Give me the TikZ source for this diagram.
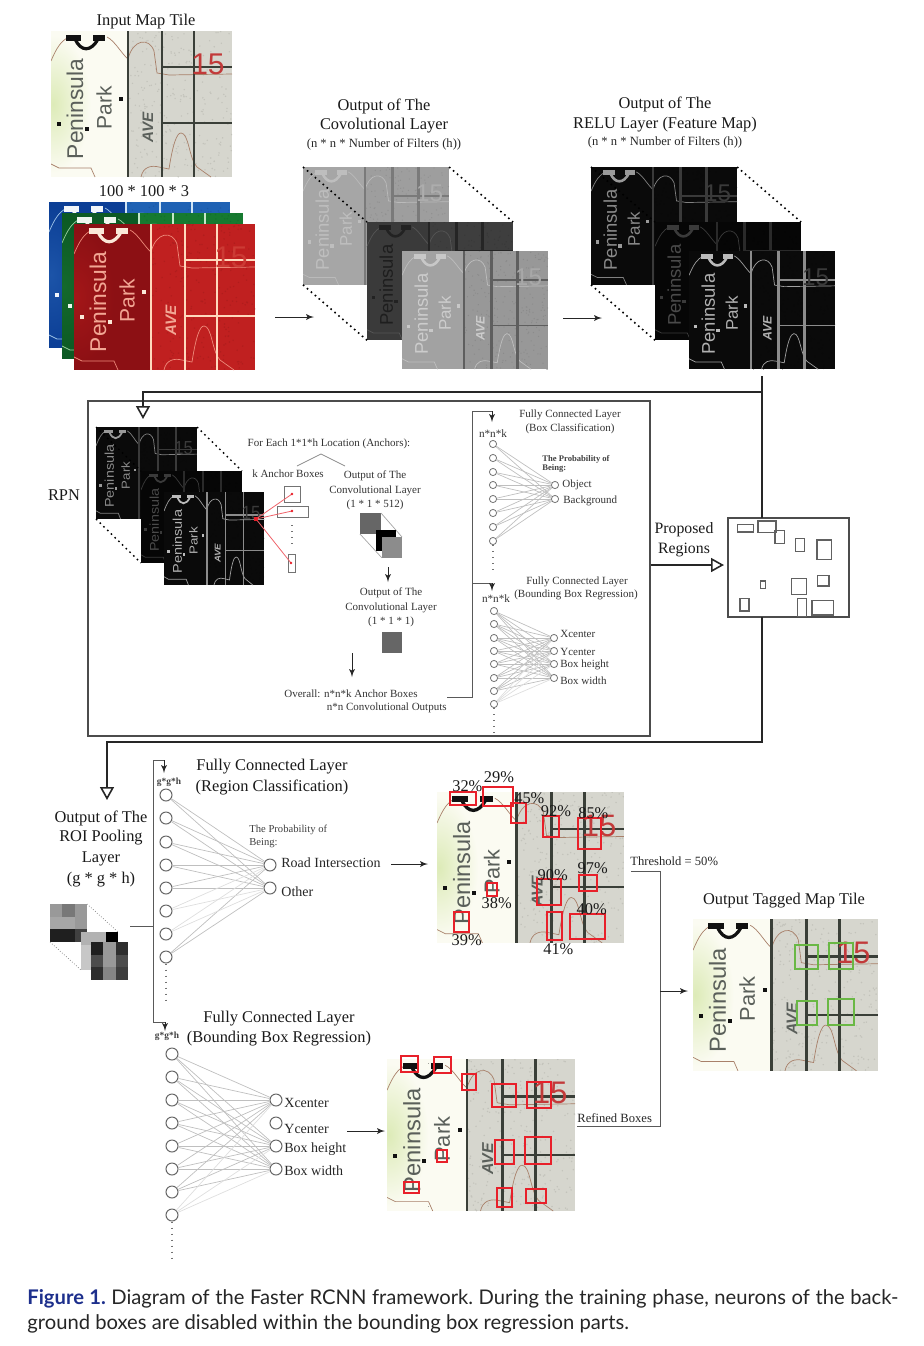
\documentclass[tikz,border=0pt]{standalone}
\usepackage{fontspec}
\usepackage{amsmath}
\usepackage{tikz}
\usetikzlibrary{arrows,arrows.meta}
\setmainfont{Liberation Serif}
\newfontfamily\tilefont{Liberation Sans}
\newfontfamily\capfont{Lato}
\newcommand{\setfs}[1]{\fontsize{#1}{#1}\selectfont}

\definecolor{capblue}{HTML}{1D2F8C}
\definecolor{boxred}{HTML}{E8202A}
\definecolor{boxgreen}{HTML}{6AB845}

% palette of one tile: bg, park, left band, roads, labels, contour, number, arch
\newcommand{\tilecolors}[8]{%
\definecolor{tbg}{HTML}{#1}\definecolor{tpark}{HTML}{#2}\definecolor{tgreen}{HTML}{#3}%
\definecolor{troad}{HTML}{#4}\definecolor{ttext}{HTML}{#5}\definecolor{tcont}{HTML}{#6}%
\definecolor{tnum}{HTML}{#7}\definecolor{tarch}{HTML}{#8}}
\newcommand{\tilenum}{15}

% name, x, y, xscale, yscale
\newcommand{\maptile}[5]{%
\begin{scope}[shift={(#2,#3)},xscale=#4,yscale=#5,transform shape]
\coordinate (#1-nw) at (0,0);
\coordinate (#1-ne) at (181,0);
\coordinate (#1-sw) at (0,146);
\begin{scope}
\clip (0,0) rectangle (181,146);
\fill[tbg] (0,0) rectangle (181,146);
\foreach \s in {1,...,260}
  \fill[tbg!91!black] (76+rnd*105,rnd*146) circle (.4pt);
\fill[tpark] (0,0) rectangle (76,146);
\fill[inner color=tgreen,outer color=tpark] (-36,4) rectangle (40,142);
% contours
\draw[tcont,line width=.35pt] (0,30) .. controls (6,16) and (10,10) .. (18,6);
\draw[tcont,line width=.35pt] (56,6) .. controls (64,10) and (70,22) .. (77,28) .. controls (82,8) and (98,6) .. (103,20) -- (106,42) -- (118,44) -- (181,43);
\draw[tcont,line width=.35pt] (0,133) -- (8,137) -- (40,137) -- (44,146);
\draw[tcont,line width=.35pt] (90,146) .. controls (92,136) and (100,134) .. (108,136) -- (118,138) .. controls (122,112) and (126,102) .. (130,102) .. controls (138,102) and (138,128) .. (146,136) -- (160,146);
% roads
\draw[troad,line width=#4*1.4pt] (77,0) -- (77,146);
\draw[troad,line width=#4*1.4pt] (111,0) -- (111,146);
\draw[troad,line width=#4*1.4pt] (143,0) -- (143,146);
\draw[troad,line width=#4*1.1pt] (111,36) -- (181,36);
\draw[troad,line width=#4*1.1pt] (111,92) -- (181,92);
% arch
\fill[tarch] (15,4) rectangle (30,10);
\fill[tarch] (42,4) rectangle (54,10);
\draw[tarch,line width=#4*1.6pt] (24,8) .. controls (30,21) and (40,21) .. (47,8);
% squares
\fill[tarch] (6,91) rectangle (10,95);
\fill[tarch] (34,96) rectangle (38,100);
\fill[tarch] (68,66) rectangle (72,70);
% labels
\node[text=ttext,rotate=90,inner sep=0pt,font=\tilefont\setfs{11.4}] (#1-pen) at (24,78) {Peninsula};
\node[text=ttext,rotate=90,inner sep=0pt,font=\tilefont\setfs{10.5}] (#1-park) at (53,77) {Park};
\node[text=ttext,rotate=90,inner sep=0pt,font=\tilefont\bfseries\itshape\setfs{7.6}] (#1-ave) at (97,96) {AVE};
\node[text=tnum,inner sep=0pt,font=\tilefont\setfs{15}] (#1-num) at (157,33) {\tilenum};
\end{scope}
\end{scope}}

\begin{document}
\begin{tikzpicture}[x=0.5pt,y=-0.5pt]
\tikzset{neuron/.style = {shape=circle,draw=black!55,fill=white,line width=.4pt,minimum size=3.6pt,inner sep=0pt}}
\tikzset{bigneuron/.style = {shape=circle,draw=black!60,fill=white,line width=.5pt,minimum size=6pt,inner sep=0pt}}
\tikzset{link/.style = {draw=black!25,line width=.35pt}}
\tikzset{faint/.style = {draw=black!13,line width=.35pt}}
\tikzset{flow/.style = {->,> = latex',draw=black!85,line width=.4pt}}
\tikzset{plain/.style = {draw=black!65,line width=.45pt}}
\tikzset{heavy/.style = {draw=black!85,line width=.9pt}}
\tikzset{heavytip/.style = {heavy,-{Triangle[open,length=6.5pt,width=7pt,line width=.8pt]}}}
\tikzset{dotline/.style = {line width=.8pt,dash pattern=on .8pt off 1.8pt}}
\tikzset{dotgray/.style = {draw=black!55,line width=.6pt,dash pattern=on .6pt off 2.4pt}}
\tikzset{pct/.style = {inner sep=0pt,font=\setfs{8.2},text=black!90}}
\tikzset{lab/.style = {pct,yshift=-1pt}}
\tikzset{mid/.style = {inner sep=0pt,yshift=-.5pt,font=\setfs{7},text=black!85}}
\tikzset{note/.style = {inner sep=0pt,yshift=-.6pt,font=\setfs{6.3},text=black!85}}
\tikzset{small/.style = {inner sep=0pt,yshift=-.6pt,font=\setfs{5.5},text=black!80}}
\tikzset{tiny/.style = {inner sep=0pt,font=\bfseries\setfs{4.3},text=black!75,align=left}}
\tikzset{anchorbox/.style = {draw=black!55,line width=.4pt}}
\tikzset{regionbox/.style = {draw=black!62,line width=.7pt}}
\tikzset{redbox/.style = {draw=boxred,line width=.9pt}}
\tikzset{greenbox/.style = {draw=boxgreen,line width=.9pt}}
\useasboundingbox (0,0) rectangle (924,1346);
\pgfmathsetseed{7}

% input tile and channels
\tilecolors{D6D6CE}{FBFBF2}{DDEBB8}{3A3F38}{5A5F5A}{A8806A}{C23A3A}{111111}
\maptile{input}{51}{31}{1}{1}
\node[lab] (inputtitle) at (146,20) {Input Map Tile};
\node[pct] (inputsize) at (144,191) {100 * 100 * 3};
\renewcommand{\tilenum}{}
\tilecolors{1F62B4}{0C3F96}{1C54A8}{CFE4F5}{CFE4F5}{9FC4E8}{1F62B4}{F2F6FA}
\maptile{blue}{49}{202}{1}{1}
\tilecolors{167A30}{0C5A24}{14692C}{C5E8C8}{C5E8C8}{9AD0A0}{167A30}{EEF6EE}
\maptile{green}{62}{213}{1}{1}
\renewcommand{\tilenum}{15}
\tilecolors{C02020}{8C1014}{A31618}{FFD8BC}{F2A694}{EE8A7A}{CC3A34}{FBE8D8}
\maptile{red}{74}{224}{1}{1}

% convolutional layer
\node[lab] (convtitlea) at (384,104) {Output of The};
\node[lab] (convtitleb) at (384,124) {Covolutional Layer};
\node[note] (convsize) at (384,143) {(n * n * Number of Filters (h))};
\tilecolors{9E9E9E}{A6A6A6}{A6A6A6}{7A7A7A}{BEBEBE}{BABABA}{ADADAD}{BEBEBE}
\maptile{conva}{303}{167}{.807}{.807}
\renewcommand{\tilenum}{}
\tilecolors{3E3E3E}{3A3A3A}{3A3A3A}{252525}{1E1E1E}{555555}{4A4A4A}{222222}
\maptile{convb}{367}{222}{.807}{.81}
\renewcommand{\tilenum}{15}
\tilecolors{989898}{A2A2A2}{A2A2A2}{5E5E5E}{CCCCCC}{BEBEBE}{A8A8A8}{C8C8C8}
\maptile{convc}{402}{251}{.807}{.81}
\draw[dotline] (conva-nw) -- (convb-nw);
\draw[dotline] (conva-ne) -- (convb-ne);
\draw[dotline] (conva-sw) -- (convb-sw);

% relu layer
\node[lab] (relutitlea) at (665,102) {Output of The};
\node[lab] (relutitleb) at (665,123) {RELU Layer (Feature Map)};
\node[note] (relusize) at (665,141) {(n * n * Number of Filters (h))};
\tilecolors{0A0A0A}{0A0A0A}{0A0A0A}{3A3A3A}{8A8A8A}{808080}{3A3A3A}{999999}
\maptile{relua}{591}{167}{.807}{.807}
\renewcommand{\tilenum}{}
\tilecolors{060606}{060606}{060606}{2A2A2A}{4A4A4A}{3A3A3A}{2A2A2A}{3A3A3A}
\maptile{relub}{655}{222}{.807}{.81}
\renewcommand{\tilenum}{15}
\tilecolors{0A0A0A}{0A0A0A}{0A0A0A}{8C8C8C}{B0B0B0}{A0A0A0}{3A3A3A}{BBBBBB}
\maptile{reluc}{689}{251}{.807}{.81}
\draw[dotline] (relua-nw) -- (relub-nw);
\draw[dotline] (relua-ne) -- (relub-ne);
\draw[dotline] (relua-sw) -- (relub-sw);

\coordinate (fa) at (275,317);
\coordinate (fb) at (314,317);
\coordinate (fc) at (563,318);
\coordinate (fd) at (602,318);
\draw[flow] (fa) to (fb);
\draw[flow] (fc) to (fd);

% rpn frame
\node[draw=black!70,line width=.8pt,minimum width=281pt,minimum height=167.5pt,inner sep=0pt] (rpn) at (369,568.5) {};
\node[lab] (rpnlabel) at (64,493) {RPN};
\tilecolors{0A0A0A}{0A0A0A}{0A0A0A}{3A3A3A}{8A8A8A}{808080}{3A3A3A}{999999}
\maptile{rpna}{96}{427}{.558}{.63}
\renewcommand{\tilenum}{}
\tilecolors{060606}{060606}{060606}{2A2A2A}{4A4A4A}{3A3A3A}{2A2A2A}{3A3A3A}
\maptile{rpnb}{141}{471}{.558}{.63}
\renewcommand{\tilenum}{15}
\tilecolors{0A0A0A}{0A0A0A}{0A0A0A}{8C8C8C}{B0B0B0}{A0A0A0}{3A3A3A}{BBBBBB}
\maptile{rpnc}{164}{492}{.555}{.637}
\draw[dotline,line width=.7pt] (rpna-nw) -- (rpnb-nw);
\draw[dotline,line width=.7pt] (rpna-ne) -- (rpnb-ne);
\draw[dotline,line width=.7pt] (rpna-sw) -- (rpnb-sw);

% anchors
\node[small] (foreach) at (329,443) {For Each 1*1*h Location (Anchors):};
\coordinate (forka) at (297,466);
\coordinate (forkb) at (321,454);
\coordinate (forkc) at (345,466);
\draw[draw=black!45,line width=.4pt] (forka) -- (forkb) -- (forkc);
\node[small] (kboxes) at (288,473) {k Anchor Boxes};
\node[small] (cubea) at (375,475) {Output of The};
\node[small] (cubeb) at (375,490) {Convolutional Layer};
\node[small] (cubec) at (375,504) {(1 * 1 * 512)};
\node[anchorbox,minimum width=8pt,minimum height=8pt,inner sep=0pt] (boxa) at (292,494) {};
\node[anchorbox,minimum width=15.5pt,minimum height=5.5pt,inner sep=0pt] (boxb) at (292.5,511.5) {};
\node[anchorbox,minimum width=3.5pt,minimum height=9pt,inner sep=0pt] (boxc) at (291.5,563) {};
\coordinate (dota) at (292,525);
\coordinate (dotb) at (292,548);
\draw[dotgray] (dota) -- (dotb);
\coordinate (src) at (256,519);
\coordinate (ra) at (292,494);
\coordinate (rb) at (292,511);
\coordinate (rc) at (291,563);
\draw[boxred!70,line width=.4pt] (src) -- (ra);
\draw[boxred!70,line width=.4pt] (src) -- (rb);
\draw[boxred!70,line width=.4pt] (src) -- (rc);
\fill[boxred] (254,517) rectangle (258,521);
\fill[boxred] (ra) circle (.7pt);
\fill[boxred] (rb) circle (.7pt);
\fill[boxred] (rc) circle (.7pt);

% small cube
\fill[black!60] (360,513) rectangle (381,534);
\draw[black!35,line width=.35pt] (381,513) -- (402,537);
\draw[black!35,line width=.35pt] (360,534) -- (382,558);
\fill[black] (376,530) rectangle (396,537);
\fill[black] (376,530) rectangle (382,551);
\fill[black!45] (382,537) rectangle (402,558);
\coordinate (ca) at (388,567);
\coordinate (cb) at (388,582);
\draw[flow] (ca) to (cb);
\node[small] (flata) at (391,592) {Output of The};
\node[small] (flatb) at (391,607) {Convolutional Layer};
\node[small] (flatc) at (391,621) {(1 * 1 * 1)};
\fill[black!60] (382,632) rectangle (402,653);
\coordinate (cc) at (352,653);
\coordinate (cd) at (352,677);
\draw[flow] (cc) to (cd);
\node[small,anchor=west] (overalla) at (284,693) {Overall: n*n*k Anchor Boxes};
\node[small,anchor=east] (overallb) at (447,707) {n*n Convolutional Outputs};

% rpn heads
\coordinate (ta) at (447,697);
\coordinate (tb) at (472,697);
\coordinate (tc) at (472,411);
\coordinate (td) at (492,411);
\coordinate (te) at (492,422);
\coordinate (tf) at (472,583);
\coordinate (tg) at (492,583);
\coordinate (th) at (492,591);
\draw[plain] (ta) -- (tb) -- (tc) -- (td);
\draw[flow] (td) to (te);
\draw[plain] (tf) -- (tg);
\draw[flow] (tg) to (th);
\node[small,font=\setfs{5.6}] (nnka) at (493,432) {n*n*k};
\node[small,font=\setfs{5.6}] (nnkb) at (496,597) {n*n*k};
\node[small] (clsa) at (570,414) {Fully Connected Layer};
\node[small] (clsb) at (570,428) {(Box Classification)};
\node[small] (rega) at (577,581) {Fully Connected Layer};
\node[small] (regb) at (576,594) {(Bounding Box Regression)};
\node[tiny,anchor=north west] (proba) at (542,455) {The Probability of\\[.2pt]Being:};

\foreach \i/\yy in {1/444,2/458,3/472,4/485,5/499,6/513,7/527,8/541}
  \node[neuron] (p\i) at (493,\yy) {};
\node[neuron] (po1) at (555,485) {};
\node[neuron] (po2) at (555,499) {};
\foreach \i in {1,...,8} \foreach \o in {1,2}
  \draw[link] (p\i) -- (po\o);
\coordinate (pend) at (493,571);
\draw[dotgray] (p8) -- (pend);
\node[small,anchor=west] (obj) at (562,484) {Object};
\node[small,anchor=west] (bg) at (563,500) {Background};

\foreach \i/\yy in {1/611,2/624,3/638,4/651,5/664,6/678,7/691,8/704}
  \node[neuron] (q\i) at (494,\yy) {};
\foreach \o/\yy in {1/638,2/651,3/664,4/678}
  \node[neuron] (qo\o) at (554,\yy) {};
\foreach \i in {1,...,7} \foreach \o in {1,2,3,4}
  \draw[link] (q\i) -- (qo\o);
\foreach \o in {1,2,3,4}
  \draw[faint] (q8) -- (qo\o);
\coordinate (qend) at (494,734);
\draw[dotgray] (q8) -- (qend);
\node[small,anchor=west] (qxa) at (560,633) {Xcenter};
\node[small,anchor=west] (qya) at (560,651) {Ycenter};
\node[small,anchor=west] (qha) at (560,664) {Box height};
\node[small,anchor=west] (qwa) at (560,680) {Box width};

% proposed regions
\node[lab,font=\setfs{7.9}] (propa) at (684,528) {Proposed};
\node[lab,font=\setfs{7.9}] (propb) at (684,548) {Regions};
\node[draw=black!70,line width=.6pt,minimum width=60.5pt,minimum height=49.5pt,inner sep=0pt] (prop) at (788.5,567.5) {};
\foreach \xa/\ya/\xb/\yb in {737.3/524.3/753.3/532,758/521/776/532.7,775/530.7/784.3/543.3,795.7/538.7/804.7/551.3,817/540/831.3/559.7,817.7/575.7/829/586,791.3/578.3/806.3/594.3,760.3/581/765.7/588.7,740/598.7/749/611,797.3/598.7/806.3/616.3,812/600.3/833.3/615}
  \draw[regionbox] (\xa,\ya) rectangle (\xb,\yb);
\coordinate (ha) at (651,565);
\coordinate (hb) at (724,565);
\draw[heavytip] (ha) to (hb);
\coordinate (ja) at (762,376);
\coordinate (jb) at (762,518);
\coordinate (jc) at (762,392);
\coordinate (jd) at (143,392);
\coordinate (je) at (143,419);
\draw[heavy] (ja) -- (jb);
\draw[heavytip] (jc) -- (jd) -- (je);
\coordinate (ka) at (762,617);
\coordinate (kb) at (762,742);
\coordinate (kc) at (107,742);
\coordinate (kd) at (107,800);
\draw[heavytip] (ka) -- (kb) -- (kc) -- (kd);

% roi pooling
\node[lab] (roia) at (101,816) {Output of The};
\node[lab] (roib) at (101,836) {ROI Pooling};
\node[lab] (roic) at (101,857) {Layer};
\node[lab] (roid) at (101,878) {(g * g * h)};
\foreach \i/\j/\g in {0/0/40,1/0/53,2/0/40,0/1/35,1/1/35,2/1/40,0/2/88,1/2/88,2/2/75}
  \fill[black!\g] (50+\i*12.3,904+\j*12.6) rectangle ++(12.3,12.6);
\foreach \i/\j/\g in {0/0/30,1/0/30,2/0/100,0/1/22,1/1/30,2/1/30,0/2/22,1/2/30,2/2/30}
  \fill[black!\g] (81+\i*12.3,932+\j*12.6) rectangle ++(12.3,12.6);
\foreach \i/\j/\g in {0/0/88,1/0/40,2/0/82,0/1/70,1/1/40,2/1/70,0/2/82,1/2/48,2/2/76}
  \fill[black!\g] (91+\i*12.3,942+\j*12.6) rectangle ++(12.3,12.6);
\coordinate (cubenw) at (87,904);
\coordinate (cubene) at (118,932);
\coordinate (cubesw) at (50,942);
\coordinate (cubese) at (81,970);
\draw[draw=black!55,line width=.35pt,densely dotted] (cubenw) -- (cubene);
\draw[draw=black!55,line width=.35pt,densely dotted] (cubesw) -- (cubese);

% bus
\coordinate (ba) at (130,926);
\coordinate (bb) at (153,926);
\coordinate (bc) at (153,760);
\coordinate (bd) at (164,760);
\coordinate (be) at (164,773);
\coordinate (bf) at (153,1022);
\coordinate (bg2) at (165,1022);
\coordinate (bh) at (165,1031);
\draw[plain] (ba) -- (bb);
\draw[plain] (bd) -- (bc) -- (bf) -- (bg2);
\draw[flow] (bd) to (be);
\draw[flow] (bg2) to (bh);
\node[tiny,font=\bfseries\setfs{4.7}] (ggha) at (169,782) {g*g*h};
\node[tiny,font=\bfseries\setfs{4.7}] (gghb) at (167,1036) {g*g*h};

% region classification
\node[lab] (rcla) at (272,765) {Fully Connected Layer};
\node[lab] (rclb) at (272,785) {(Region Classification)};
\node[inner sep=0pt,font=\setfs{5.3},text=black!75,anchor=north west,align=left] (rprob) at (249,825) {The Probability of\\[.8pt]Being:};
\foreach \i/\yy in {1/795,2/818,3/842,4/865,5/888,6/911,7/934,8/957}
  \node[bigneuron] (r\i) at (166,\yy) {};
\node[bigneuron] (ro1) at (270,865) {};
\node[bigneuron] (ro2) at (270,888) {};
\foreach \i in {1,2,3,4,5,8} \foreach \o in {1,2}
  \draw[link] (r\i) -- (ro\o);
\foreach \i in {6,7} \foreach \o in {1,2}
  \draw[faint] (r\i) -- (ro\o);
\coordinate (rend) at (166,1001);
\draw[dotgray] (r8) -- (rend);
\node[mid,anchor=west] (road) at (281,862) {Road Intersection};
\node[mid,anchor=west] (other) at (281,891) {Other};
\coordinate (ma) at (391,864);
\coordinate (mb) at (428,864);
\draw[flow] (ma) to (mb);

% tagged maps
\tilecolors{D6D6CE}{FBFBF2}{DDEBB8}{3A3F38}{5A5F5A}{A8806A}{C23A3A}{111111}
\maptile{scored}{437}{792}{1.033}{1.034}
\maptile{tagged}{693}{919}{1.022}{1.04}
\maptile{refined}{387}{1059}{1.039}{1.041}
\node[lab] (tagtitle) at (784,899) {Output Tagged Map Tile};

\begin{scope}[shift={(430,760)},x=.16667pt,y=-.16667pt]
\foreach \xa/\ya/\xb/\yb in {60/97/138/136,160/80/248/138,243/130/289/190,340/168/386/230,445/173/513/268,320/358/392/434,448/344/502/394,170/368/200/408,72/455/118/516,350/455/395/540,420/463/525/536}
  \draw[redbox] (\xa,\ya) rectangle (\xb,\yb);
\foreach \xa/\ya/\xb/\yb in {1095/556/1165/626,1197/550/1270/628,1100/724/1160/796,1193/717/1272/796}
  \draw[greenbox] (\xa,\ya) rectangle (\xb,\yb);
\foreach \n/\px/\py/\t in {sa/112/77/32\%,sb/207/50/29\%,sc/298/115/45\%,sd/378/152/92\%,se/490/160/85\%,sf/368/345/90\%,sg/488/325/97\%,sh/200/430/38\%,si/110/540/39\%,sj/385/567/41\%,sk/485/448/40\%}
  \node[pct] (\n) at (\px,\py) {\t};
\end{scope}

\begin{scope}[shift={(150,1010)},x=.16667pt,y=-.16667pt]
\foreach \xa/\ya/\xb/\yb in {752/138/805/187,852/141/902/190,935/193/978/240,1027/222/1097/291,1130/216/1202/294,1036/390/1093/462,1124/382/1204/462,860/420/890/456,762/517/806/550,1040/534/1085/590,1128/536/1188/580}
  \draw[redbox] (\xa,\ya) rectangle (\xb,\yb);
\end{scope}

% threshold
\node[note,anchor=west] (thresh) at (630,860) {Threshold = 50\%};
\node[note,anchor=west] (refbox) at (577,1117) {Refined Boxes};
\coordinate (ua) at (631,871);
\coordinate (ub) at (660,871);
\coordinate (uc) at (660,1126);
\coordinate (ud) at (577,1126);
\coordinate (ue) at (660,991);
\coordinate (uf) at (688,991);
\draw[plain] (ua) -- (ub) -- (uc) -- (ud);
\draw[flow] (ue) to (uf);

% box regression
\node[lab] (breqa) at (279,1017) {Fully Connected Layer};
\node[lab] (breqb) at (279,1037) {(Bounding Box Regression)};
\foreach \i/\yy in {1/1054,2/1077,3/1100,4/1123,5/1146,6/1169,7/1192,8/1215}
  \node[bigneuron] (s\i) at (172,\yy) {};
\foreach \o/\yy in {1/1100,2/1123,3/1146,4/1169}
  \node[bigneuron] (so\o) at (276,\yy) {};
\foreach \i in {1,...,7} \foreach \o in {1,3,4}
  \draw[link] (s\i) -- (so\o);
\foreach \o in {1,3,4}
  \draw[faint] (s8) -- (so\o);
\coordinate (send) at (172,1259);
\draw[dotgray] (s8) -- (send);
\node[mid,anchor=west] (sxa) at (284,1102) {Xcenter};
\node[mid,anchor=west] (sya) at (284,1128) {Ycenter};
\node[mid,anchor=west] (sha) at (284,1148) {Box height};
\node[mid,anchor=west] (swa) at (284,1170) {Box width};
\coordinate (na) at (347,1131);
\coordinate (nb) at (385,1131);
\draw[flow] (na) to (nb);

% caption
\node[inner sep=0pt,yshift=-1pt,anchor=west,font=\capfont\frenchspacing\setfs{10.1},text=black!85] (capa) at (27,1297) {\makebox[435.5pt][s]{\textcolor{capblue}{\bfseries Figure 1.} Diagram of the Faster RCNN framework. During the training phase, neurons of the back-}};
\node[inner sep=0pt,yshift=-1pt,anchor=west,font=\capfont\frenchspacing\setfs{10.1},text=black!85] (capb) at (27,1322) {ground boxes are disabled within the bounding box regression parts.};

\end{tikzpicture}
\end{document}
